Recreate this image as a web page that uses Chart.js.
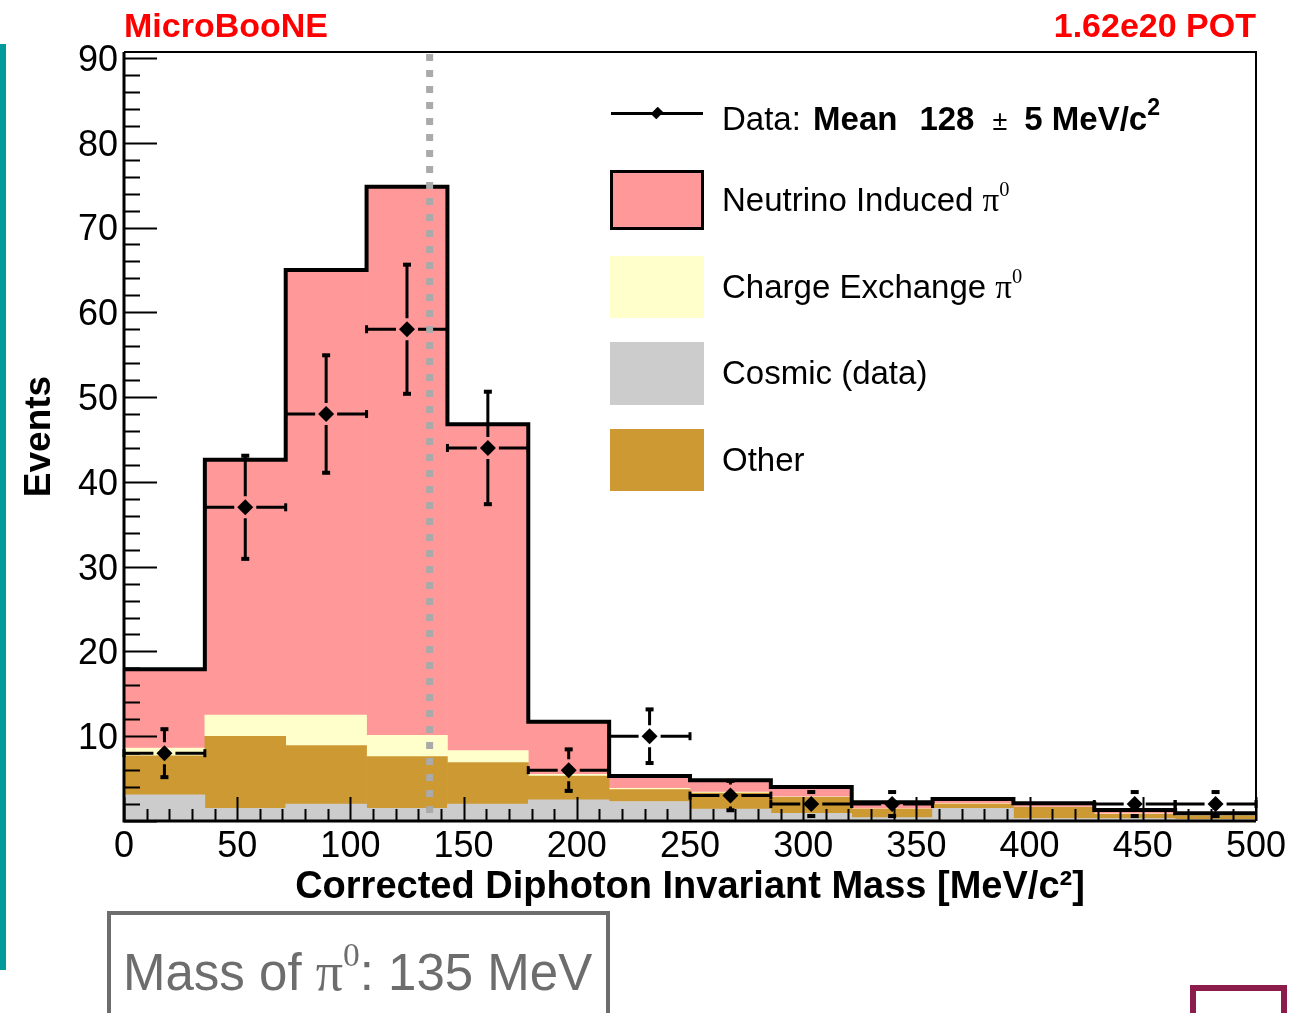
<!DOCTYPE html>
<html>
<head>
<meta charset="utf-8">
<script src="https://cdn.jsdelivr.net/npm/chart.js@4.4.0/dist/chart.umd.min.js"></script>
<style>
  html, body { margin: 0; padding: 0; background: #fff; }
  body { width: 1291px; height: 1013px; position: relative; overflow: hidden; font-family: "Liberation Sans", Arial, Helvetica, sans-serif; }
  #wrap { position: absolute; left: 0; top: 0; width: 1291px; height: 1013px; }
  .txt { position: absolute; white-space: nowrap; line-height: 40px; }
  .red { color: #ff0000; font-weight: bold; font-size: 34px; }
  .leg { left: 722px; font-size: 33px; color: #000; }
  .sw { position: absolute; left: 610px; width: 94px; box-sizing: border-box; }
  .pi { font-family: "Liberation Serif", "DejaVu Serif", serif; }
  sup { font-size: 0.62em; line-height: 0; position: relative; top: -0.15em; }
</style>
</head>
<body>
<div id="wrap"><canvas id="chart"></canvas></div>

<div style="position:absolute; left:0; top:44px; width:6px; height:926px; background:#009a9a;"></div>

<div class="txt red" style="left:124px; top:5px;">MicroBooNE</div>
<div class="txt red" style="right:35px; top:5px;">1.62e20 POT</div>

<!-- legend -->
<div style="position:absolute; left:611px; top:112px; width:92px; height:3px; background:#000;"></div>
<div style="position:absolute; left:652px; top:108px; width:10px; height:10px; background:#000; transform:rotate(45deg) scale(0.8,1);"></div>
<div class="txt leg" style="top:99px;">Data: <b style="margin-left:3px;">Mean</b><b style="margin-left:22px;">128</b><span style="font-size:27px; margin:0 17px 0 18px;">&plusmn;</span><b>5 MeV/c<sup style="font-size:0.7em;">2</sup></b></div>

<div class="sw" style="top:170px; height:60px; background:#ff9999; border:3px solid #000;"></div>
<div class="txt leg" style="top:180px;">Neutrino Induced <span class="pi">&pi;<sup>0</sup></span></div>

<div class="sw" style="top:256px; height:62px; background:#ffffcc;"></div>
<div class="txt leg" style="top:267px;">Charge Exchange <span class="pi">&pi;<sup>0</sup></span></div>

<div class="sw" style="top:342px; height:63px; background:#cccccc;"></div>
<div class="txt leg" style="top:353px;">Cosmic (data)</div>

<div class="sw" style="top:429px; height:62px; background:#cc9933;"></div>
<div class="txt leg" style="top:440px;">Other</div>

<!-- bottom boxes -->
<div style="position:absolute; left:107px; top:911px; width:503px; height:130px; box-sizing:border-box; border:4px solid #6d6d6d;"></div>
<div class="txt" style="left:123px; top:942px; font-size:51px; line-height:60px; color:#6d6d6d;">Mass of <span class="pi" style="font-size:54px;">&pi;<sup>0</sup></span>: 135 MeV</div>
<div style="position:absolute; left:1190px; top:985px; width:97px; height:60px; box-sizing:border-box; border:6px solid #8c1c4c;"></div>

<script>
// histogram bins (MeV/c^2)
const binLow = [0, 35.71, 71.43, 107.14, 142.86, 178.57, 214.29, 250, 285.71, 321.43, 357.14, 392.86, 428.57, 464.29];
const binWidth = 35.71;
const xMax = 500;

// stacked MC components, bottom to top
const cosmicData   = [3.1, 1.5, 2.0, 1.5, 2.0, 2.5, 2.3, 1.4, 0.9, 0.4, 1.5, 0.3, 0.3, 0.2];
const otherData    = [4.6, 8.5, 6.9, 6.1, 4.9, 2.8, 1.4, 1.9, 1.9, 1.0, 0.5, 1.3, 0.5, 0.4];
const chargeExData = [0.9, 2.5, 3.6, 2.5, 1.4, 0.2, 0.15, 0.1, 0.05, 0.05, 0.05, 0.05, 0.05, 0.05];
const neutrinoData = [9.3, 30.1, 52.5, 64.7, 38.5, 6.2, 1.45, 1.4, 1.15, 0.75, 0.55, 0.45, 0.45, 0.25];

// measured events per bin
const dataCounts = [8, 37, 48, 58, 44, 6, 10, 3, 2, 2, 0, 0, 2, 2];

const pi0Mass = 135;
const yMax = 90.7;

const FONT = '"Liberation Sans", Arial, Helvetica, sans-serif';
Chart.defaults.font.family = FONT;
Chart.defaults.color = '#000';

const centers = binLow.map(lo => lo + binWidth / 2);
const totals = binLow.map((_, i) => cosmicData[i] + otherData[i] + chargeExData[i] + neutrinoData[i]);

function barSet(label, values, color) {
    return {
        type: 'bar',
        label: label,
        data: values.map((v, i) => ({ x: centers[i], y: v })),
        backgroundColor: color,
        borderWidth: 0,
        stack: 'mc',
        order: 3,
        barPercentage: 1,
        categoryPercentage: 1
    };
}

const outline = binLow.map((lo, i) => ({ x: lo, y: totals[i] }));
outline.push({ x: xMax, y: totals[totals.length - 1] });

const points = [];
dataCounts.forEach((n, i) => {
    if (n > 0) points.push({ x: centers[i], y: n });
});

/**
 * 枠線・目盛り・誤差棒・135 MeV の点線
 */
const decorations = {
    id: 'decorations',
    afterDatasetsDraw(chart) {
        const { ctx, chartArea: a, scales: { x, y } } = chart;
        ctx.save();
        ctx.strokeStyle = '#000';

        // ticks inside the frame
        ctx.lineWidth = 2;
        ctx.beginPath();
        for (let v = 0; v <= 90; v += 2) {
            const py = Math.round(y.getPixelForValue(v)) + 0.5;
            const len = v % 10 === 0 ? 33 : 16;
            ctx.moveTo(a.left, py);
            ctx.lineTo(a.left + len, py);
        }
        for (let v = 0; v <= xMax; v += 10) {
            const px = Math.round(x.getPixelForValue(v)) + 0.5;
            const len = v % 50 === 0 ? 24 : 12;
            ctx.moveTo(px, a.bottom);
            ctx.lineTo(px, a.bottom - len);
        }
        ctx.stroke();

        // error bars
        const meta = chart.getDatasetMeta(0);
        ctx.lineWidth = 3;
        const r = 8, gap = 3;
        points.forEach((p, i) => {
            const el = meta.data[i];
            const cx = el.x, cy = el.y;
            const err = Math.sqrt(p.y);
            const yTop = y.getPixelForValue(p.y + err);
            const yBot = y.getPixelForValue(Math.max(p.y - err, 0));
            const xL = x.getPixelForValue(p.x - binWidth / 2);
            const xR = x.getPixelForValue(p.x + binWidth / 2);
            ctx.beginPath();
            if (cy - r - gap > yTop) { ctx.moveTo(cx, yTop); ctx.lineTo(cx, cy - r - gap); }
            if (cy + r + gap < yBot) { ctx.moveTo(cx, cy + r + gap); ctx.lineTo(cx, yBot); }
            ctx.moveTo(xL, cy); ctx.lineTo(cx - r - gap, cy);
            ctx.moveTo(cx + r + gap, cy); ctx.lineTo(xR, cy);
            ctx.stroke();
            ctx.fillStyle = '#000';
            ctx.fillRect(cx - 4, yTop - 2, 8, 4);
            ctx.fillRect(cx - 4, yBot - 2, 8, 4);
            ctx.fillRect(xL - 1.5, cy - 4, 3, 8);
            ctx.fillRect(xR - 1.5, cy - 4, 3, 8);
        });

        // pi0 mass marker
        const mx = x.getPixelForValue(pi0Mass);
        ctx.strokeStyle = '#aaaaaa';
        ctx.lineWidth = 7;
        ctx.setLineDash([7, 9]);
        ctx.beginPath();
        ctx.moveTo(mx, a.top + 2);
        ctx.lineTo(mx, a.bottom);
        ctx.stroke();
        ctx.setLineDash([]);

        // frame
        ctx.strokeStyle = '#000';
        ctx.lineWidth = 2;
        ctx.beginPath();
        ctx.moveTo(a.left, a.top);
        ctx.lineTo(a.right, a.top);
        ctx.lineTo(a.right, a.bottom);
        ctx.stroke();
        ctx.lineWidth = 3;
        ctx.beginPath();
        ctx.moveTo(a.left, a.top);
        ctx.lineTo(a.left, a.bottom);
        ctx.lineTo(a.right, a.bottom);
        ctx.stroke();
        ctx.restore();
    }
};

new Chart(document.getElementById('chart'), {
    type: 'bar',
    data: {
        datasets: [
            {
                type: 'line',
                label: 'Data',
                data: points,
                showLine: false,
                pointStyle: 'rectRot',
                pointRadius: 8,
                pointBackgroundColor: '#000',
                pointBorderWidth: 0,
                order: 0
            },
            {
                type: 'line',
                label: 'Total',
                data: outline,
                stepped: 'before',
                borderColor: '#000',
                borderWidth: 4,
                pointRadius: 0,
                fill: false,
                order: 1
            },
            barSet('Cosmic (data)', cosmicData, '#cccccc'),
            barSet('Other', otherData, '#cc9933'),
            barSet('Charge Exchange π0', chargeExData, '#ffffcc'),
            barSet('Neutrino Induced π0', neutrinoData, '#ff9999')
        ]
    },
    options: {
        responsive: true,
        maintainAspectRatio: false,
        animation: false,
        layout: {
            padding: { left: 0, right: 35, top: 52, bottom: 103 }
        },
        plugins: {
            legend: { display: false },
            tooltip: { enabled: false }
        },
        scales: {
            x: {
                type: 'linear',
                min: 0,
                max: xMax,
                offset: false,
                grid: { display: false, drawTicks: false },
                border: { display: false },
                ticks: {
                    stepSize: 50,
                    padding: 4,
                    maxRotation: 0,
                    autoSkip: false,
                    font: { size: 36 }
                },
                title: {
                    display: true,
                    text: 'Corrected Diphoton Invariant Mass [MeV/c²]',
                    font: { size: 38, weight: 'bold' },
                    padding: { top: 0, bottom: 0 }
                },
                afterFit(scale) { scale.height = 89; }
            },
            y: {
                min: 0,
                max: yMax,
                grid: { display: false, drawTicks: false },
                border: { display: false },
                ticks: {
                    stepSize: 10,
                    includeBounds: false,
                    padding: 6,
                    labelOffset: 3,
                    font: { size: 36 },
                    callback: v => (v === 0 ? '' : v)
                },
                title: {
                    display: true,
                    text: 'Events',
                    font: { size: 37, weight: 'bold' },
                    padding: { top: 18, bottom: 0 }
                },
                afterFit(scale) { scale.width = 124; }
            }
        }
    },
    plugins: [decorations]
});
</script>
</body>
</html>
